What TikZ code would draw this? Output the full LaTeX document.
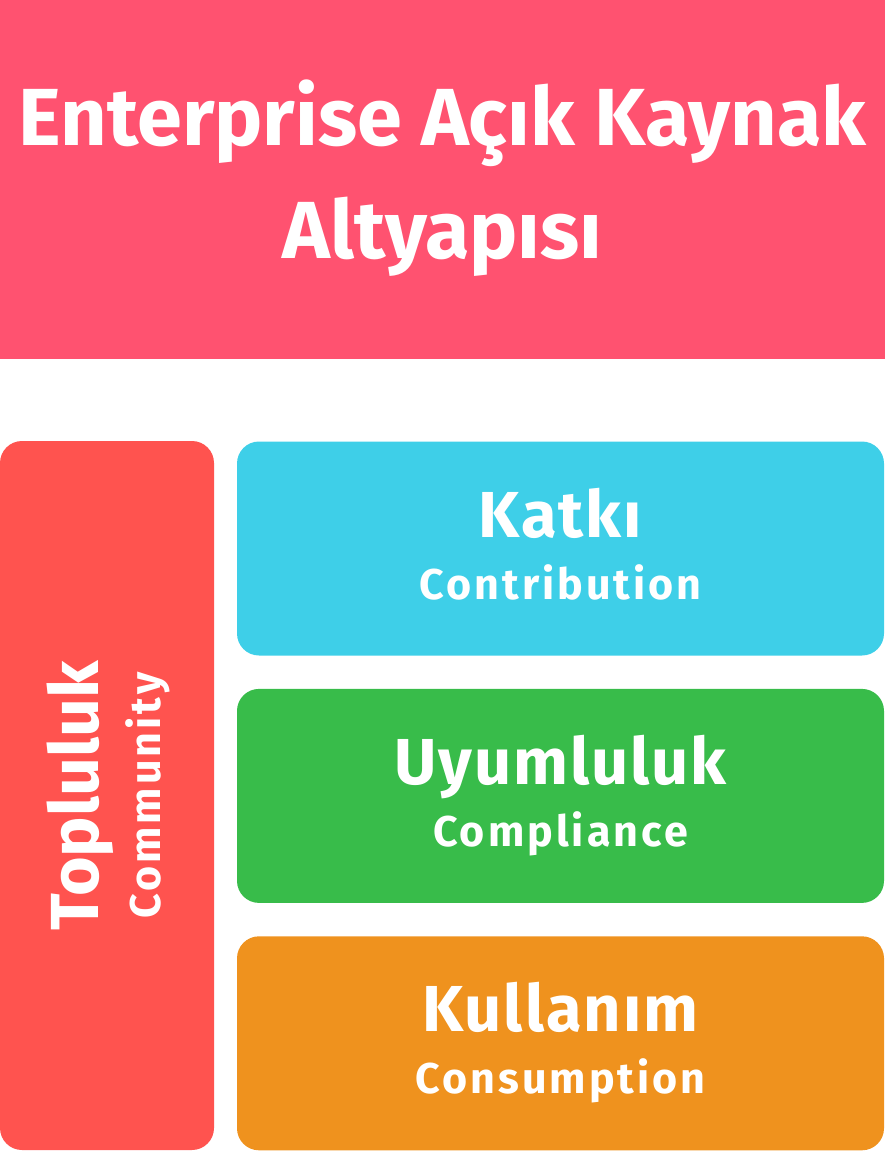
\documentclass[tikz,border=0pt]{standalone}
\usepackage{fontspec}
\setmainfont{Fira Sans}
\newfontfamily\headfont{Fira Sans}[LetterSpace=3]
\newfontfamily\subfont{Fira Sans}[LetterSpace=7]
\usetikzlibrary{calc,positioning}

\begin{document}
\begin{tikzpicture}[
        x=1pt,y=-1pt,
        node distance=33pt,
        box/.style={rounded corners=22pt,minimum width=647pt,minimum height=214pt,inner sep=0pt},
        head/.style={text=white,anchor=base,inner sep=0pt,font=\headfont\bfseries\fontsize{65}{70}\selectfont},
        sub/.style={text=white,anchor=base,inner sep=0pt,font=\subfont\bfseries\fontsize{43}{48}\selectfont}
    ]
    \definecolor{pkx}{HTML}{FF5270}
    \definecolor{rdx}{HTML}{FF534F}
    \definecolor{cyx}{HTML}{3ECFE8}
    \definecolor{gnx}{HTML}{38BC4A}
    \definecolor{orx}{HTML}{EF921E}

    \useasboundingbox (0,0) rectangle (885,1152);

    % title band
    \fill[pkx] (0,0) rectangle (885,359);
    \node (t1) [text=white,anchor=base,inner sep=0pt,font=\bfseries\fontsize{81}{90}\selectfont] at (442.5,145) {Enterprise Açık Kaynak};
    \node (t2) [text=white,anchor=base,inner sep=0pt,font=\bfseries\fontsize{81}{90}\selectfont] at (442.5,258) {Altyapısı};

    % the three layers
    \node (katki) [box,fill=cyx] at (560.5,548.5) {};
    \node (uyum)  [box,fill=gnx,below=of katki]   {};
    \node (kull)  [box,fill=orx,below=of uyum]    {};
    \node [head] at ($(katki.center)+(0,-11.5)$) {Katkı};
    \node [sub]  at ($(katki.center)+(0,50.5)$)  {Contribution};
    \node [head] at ($(uyum.center)+(0,-11.5)$)  {Uyumluluk};
    \node [sub]  at ($(uyum.center)+(0,50.5)$)   {Compliance};
    \node [head] at ($(kull.center)+(0,-11.5)$)  {Kullanım};
    \node [sub]  at ($(kull.center)+(0,50.5)$)   {Consumption};

    % community column
    \node (topl) [rounded corners=22pt,fill=rdx,minimum width=214pt,minimum height=709pt,inner sep=0pt] at (107,795.5) {};
    \node [head,rotate=90,font=\bfseries\fontsize{68}{72}\selectfont] at ($(topl.center)+(-9,0)$) {Topluluk};
    \node [sub,rotate=90] at ($(topl.center)+(53,0)$) {Community};
\end{tikzpicture}
\end{document}
